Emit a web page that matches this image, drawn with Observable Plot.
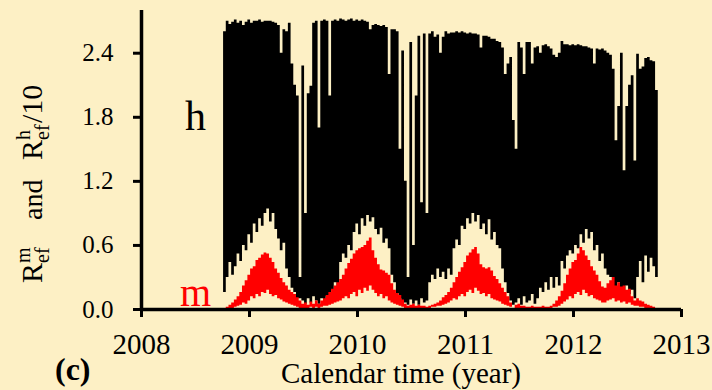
<!DOCTYPE html>
<html><head><meta charset="utf-8">
<script src="https://cdn.jsdelivr.net/npm/d3@7"></script>
<script src="https://cdn.jsdelivr.net/npm/@observablehq/plot@0.6"></script>
<style>
html,body{margin:0;padding:0;background:#fdf0c5;}
#chart svg, #chart svg text, #chart svg tspan { font-family: 'Liberation Serif', 'DejaVu Serif', serif !important; }
</style></head>
<body><div id="chart"></div>
<script>
// sampling grid of the two series (calendar years)
const tStart = 2008.76, tStep = 0.025;
const xTicks = [2008, 2009, 2010, 2011, 2012, 2013];
const yTicks = [0, 0.6, 1.2, 1.8, 2.4];

// h : upper and lower excursions of R_ef^h/10 (dense oscillation)
const hHi = [
 2.60,2.70,2.67,2.69,2.71,2.68,2.70,2.66,2.69,2.71,2.68,2.70,2.70,2.71,2.69,2.70,2.70,2.70,2.69,2.68,2.66,2.40,
 2.62,2.60,2.68,2.30,2.10,2.00,0.30,2.28,0.90,2.02,2.09,2.68,2.70,1.70,2.70,2.71,2.70,2.00,2.70,
 2.71,2.70,2.72,2.71,2.70,2.71,2.72,2.70,2.71,2.70,2.71,2.70,2.69,2.62,2.66,2.67,2.66,2.65,2.66,2.64,
 2.20,2.62,2.62,2.60,1.50,2.42,1.20,0.30,2.50,0.60,2.00,2.56,1.00,2.58,0.90,2.58,2.60,2.55,2.57,2.40,
 2.55,2.60,2.58,2.59,2.59,2.60,2.59,2.60,2.59,2.58,2.59,2.58,2.58,2.57,2.45,2.56,2.56,2.55,2.53,2.53,
 2.51,2.50,2.45,2.20,2.30,2.36,1.77,1.50,2.50,2.45,2.20,2.50,2.50,2.30,2.45,2.46,2.40,2.47,2.48,2.46,
 2.44,2.38,2.36,2.40,2.51,2.48,2.48,2.47,2.48,2.47,2.48,2.47,2.46,2.46,2.45,2.44,2.30,2.44,2.43,2.44,
 2.42,2.40,2.38,2.25,1.58,1.90,2.40,1.30,1.90,2.10,2.19,1.39,2.39,2.25,2.27,2.35,2.36,2.33,2.32,2.05
];
const hLo = [
 0.16,0.30,0.44,0.32,0.40,0.52,0.45,0.60,0.55,0.70,0.62,0.80,0.72,0.85,0.78,0.90,0.94,0.82,0.90,0.75,0.66,0.55,
 0.62,0.38,0.30,0.20,0.16,0.10,0.10,0.08,0.05,0.10,0.06,0.12,0.08,0.05,0.10,0.07,0.12,0.10,0.18,
 0.25,0.20,0.44,0.52,0.48,0.60,0.55,0.72,0.80,0.70,0.85,0.78,0.88,0.82,0.86,0.75,0.70,0.76,0.62,0.66,
 0.57,0.32,0.25,0.15,0.10,0.08,0.06,0.04,0.09,0.05,0.08,0.04,0.10,0.06,0.08,0.25,0.32,0.28,0.38,0.30,
 0.35,0.28,0.38,0.32,0.57,0.65,0.60,0.78,0.75,0.85,0.80,0.90,0.82,0.88,0.75,0.80,0.70,0.84,0.65,0.72,
 0.60,0.57,0.38,0.25,0.15,0.08,0.04,0.06,0.10,0.04,0.12,0.06,0.08,0.14,0.05,0.10,0.20,0.16,0.25,0.18,
 0.30,0.20,0.30,0.22,0.45,0.38,0.50,0.55,0.52,0.60,0.57,0.70,0.62,0.75,0.66,0.72,0.55,0.60,0.45,0.52,
 0.38,0.32,0.30,0.20,0.12,0.25,0.15,0.10,0.22,0.14,0.18,0.10,0.30,0.45,0.25,0.50,0.35,0.48,0.40,0.30
];
// m : upper and lower excursions of R_ef^m
const mHi = [
 0.01,0.02,0.04,0.06,0.09,0.12,0.16,0.22,0.27,0.32,0.38,0.40,0.46,0.48,0.51,0.53,0.52,0.48,0.44,0.38,0.34,0.29,
 0.25,0.22,0.18,0.16,0.14,0.11,0.08,0.05,0.06,0.04,0.07,0.05,0.08,0.05,0.08,0.10,0.13,0.16,0.19,
 0.22,0.25,0.28,0.32,0.38,0.43,0.47,0.52,0.55,0.57,0.58,0.60,0.64,0.67,0.55,0.48,0.42,0.37,0.36,0.34,
 0.32,0.24,0.18,0.15,0.13,0.09,0.05,0.03,0.04,0.05,0.03,0.04,0.03,0.03,0.02,0.03,0.04,0.05,0.06,0.08,
 0.11,0.13,0.16,0.20,0.25,0.30,0.35,0.39,0.44,0.50,0.53,0.56,0.58,0.52,0.42,0.39,0.38,0.39,0.36,0.31,
 0.28,0.24,0.20,0.16,0.12,0.06,0.01,0.04,0.05,0.03,0.03,0.02,0.02,0.03,0.02,0.02,0.02,0.03,0.02,0.02,
 0.03,0.05,0.08,0.12,0.17,0.24,0.32,0.38,0.44,0.46,0.52,0.58,0.55,0.50,0.46,0.40,0.36,0.32,0.26,0.21,
 0.20,0.24,0.27,0.30,0.22,0.25,0.21,0.22,0.18,0.19,0.12,0.08,0.10,0.08,0.07,0.05,0.04,0.03,0.02,0.01
];
const mLo = [
 0,0,0.01,0.01,0.02,0.03,0.04,0.06,0.05,0.08,0.12,0.10,0.14,0.12,0.16,0.15,0.18,0.14,0.12,0.13,0.10,0.09,
 0.07,0.06,0.05,0.04,0.03,0.02,0.01,0.01,0.01,0.01,0.02,0.01,0.02,0.01,0.02,0.03,0.03,0.04,0.05,
 0.06,0.07,0.08,0.10,0.12,0.10,0.14,0.16,0.12,0.18,0.15,0.20,0.17,0.22,0.18,0.15,0.12,0.14,0.10,0.12,
 0.08,0.06,0.05,0.04,0.03,0.02,0.01,0.01,0.01,0.01,0.01,0.01,0.01,0.01,0.01,0.01,0.02,0.02,0.03,0.03,
 0.04,0.05,0.06,0.08,0.10,0.09,0.12,0.14,0.12,0.16,0.18,0.15,0.20,0.17,0.14,0.15,0.12,0.14,0.10,0.09,
 0.08,0.07,0.05,0.04,0.03,0.02,0,0.01,0.01,0.01,0.01,0.01,0.01,0.01,0.01,0.01,0.01,0.01,0.01,0.01,
 0.01,0.02,0.02,0.03,0.05,0.07,0.09,0.12,0.10,0.14,0.16,0.13,0.18,0.15,0.12,0.13,0.10,0.09,0.08,0.06,
 0.06,0.08,0.09,0.10,0.07,0.08,0.06,0.07,0.05,0.06,0.04,0.03,0.03,0.02,0.02,0.01,0.01,0,0,0
];

const hData = hHi.map((v, i) => ({t: tStart + i * tStep, hi: v, lo: hLo[i]}));
hData.push({t: tStart + hHi.length * tStep, hi: hHi[hHi.length - 1], lo: hLo[hLo.length - 1]});
const mData = mHi.map((v, i) => ({t: tStart + i * tStep, hi: v, lo: mLo[i]}));

const FONT = "'Liberation Serif', 'DejaVu Serif', serif";
const bg = "#fdf0c5";

const chart = Plot.plot({
  width: 712, height: 390,
  marginLeft: 141, marginRight: 31, marginTop: 10, marginBottom: 81,
  style: {background: bg, fontFamily: FONT, color: "#000"},
  x: {domain: [2008, 2013], label: null},
  y: {domain: [0, 2.8], label: null},
  marks: [
    Plot.areaY(hData, {x: "t", y1: "lo", y2: "hi", curve: "step-after", fill: "#000"}),
    Plot.areaY(mData, {x: "t", y1: "lo", y2: "hi", curve: "step-after", fill: "#ff0000"}),
    Plot.axisX({ticks: xTicks, tickFormat: d => String(d), tickSize: 8, tickPadding: 16, fontSize: 29, strokeWidth: 3, label: null}),
    Plot.axisY({ticks: yTicks, tickFormat: d => d.toFixed(1), tickSize: 8, tickPadding: 20, fontSize: 25, strokeWidth: 3, label: null}),
    Plot.ruleY([0], {strokeWidth: 3.5}),
    Plot.ruleX([2008], {strokeWidth: 3.5}),
    Plot.text(["h"], {x: 2008.5, y: 1.68, text: d => d, fontSize: 42, fill: "#000", textAnchor: "middle", lineAnchor: "bottom"}),
    Plot.text(["m"], {x: 2008.5, y: 0.03, text: d => d, fontSize: 40, fill: "#ff0000", textAnchor: "middle", lineAnchor: "bottom"})
  ]
});
document.getElementById("chart").appendChild(chart);

const svg = d3.select(chart);
// y-axis title, rotated
const g = svg.append("g").attr("transform", "translate(42,283) rotate(-90)")
  .attr("font-family", FONT).attr("fill", "#000").attr("text-anchor", "start");
const yl = g.append("text").attr("text-anchor", "start");
yl.append("tspan").attr("x", 0).attr("y", 0).attr("font-size", 30).text("R");
yl.append("tspan").attr("x", 20).attr("y", -12).attr("font-size", 20).text("m");
yl.append("tspan").attr("x", 20).attr("y", 7).attr("font-size", 20).text("ef");
yl.append("tspan").attr("x", 63).attr("y", 0).attr("font-size", 28).text("and");
yl.append("tspan").attr("x", 123).attr("y", 0).attr("font-size", 30).text("R");
yl.append("tspan").attr("x", 143).attr("y", -12).attr("font-size", 20).text("h");
yl.append("tspan").attr("x", 143).attr("y", 7).attr("font-size", 20).text("ef");
yl.append("tspan").attr("x", 160).attr("y", 0).attr("font-size", 30).text("/10");

svg.append("text").attr("x", 401).attr("y", 383).attr("text-anchor", "middle")
  .attr("font-family", FONT).attr("font-size", 29).attr("fill", "#000").text("Calendar time (year)");
svg.append("text").attr("x", 55).attr("y", 380).attr("text-anchor", "start")
  .attr("font-family", FONT).attr("font-size", 32).attr("font-weight", "bold").attr("fill", "#000").text("(c)");
</script></body></html>
